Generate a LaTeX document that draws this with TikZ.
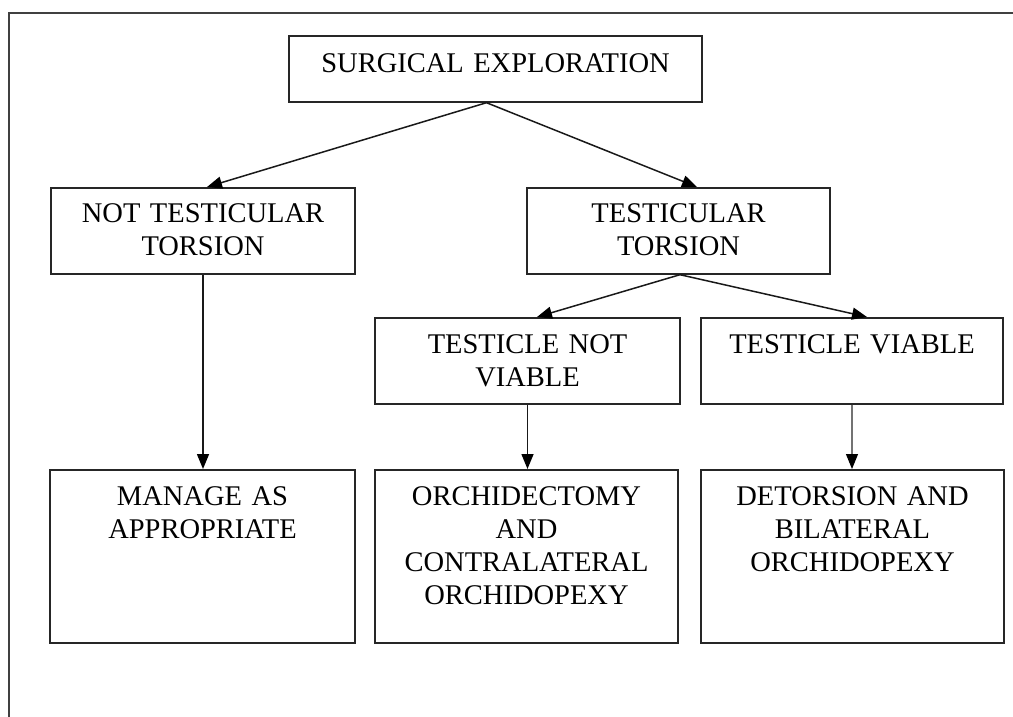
\documentclass[tikz,border=0pt]{standalone}
\usepackage{fontspec}
\setmainfont{Liberation Serif}
\usetikzlibrary{arrows.meta}
\begin{document}
\begin{tikzpicture}[x=1pt,y=-1pt,
  box/.style={draw=black!85, line width=1.7pt, anchor=north, inner xsep=0pt, inner ysep=0pt,
    align=center, font=\fontsize{28.5}{33}\selectfont},
  arr/.style={-{Triangle[length=15pt,width=12pt,color=black]}, line width=1.5pt, draw=black!90},
  lightarr/.style={-{Triangle[length=15pt,width=12pt,color=black]}, line width=1.1pt, draw=black!55},
  frame/.style={draw=black!75, line width=2pt}
]
\useasboundingbox (0,0) rectangle (1013,717);
\draw[frame] (9,717) -- (9,13) -- (1013,13);

\node[box, text width=413pt, text height=37pt, text depth=29pt] (top) at (495.5,35) {SURGICAL EXPLORATION};

\node[box, text width=304pt, text height=35pt, text depth=51pt] (ntt) at (203,187) {NOT TESTICULAR\\TORSION};
\node[box, text width=303pt, text height=35pt, text depth=51pt] (tt) at (678.5,187) {TESTICULAR\\TORSION};

\node[box, text width=305pt, text height=36pt, text depth=50pt] (tnv) at (527.5,317) {TESTICLE NOT\\VIABLE};
\node[box, text width=302pt, text height=36pt, text depth=50pt] (tv) at (852,317) {TESTICLE VIABLE};

\node[box, text width=305pt, text height=36pt, text depth=137pt] (maa) at (202.5,469) {MANAGE AS\\APPROPRIATE};
\node[box, text width=303pt, text height=36pt, text depth=137pt] (orch) at (526.5,469) {ORCHIDECTOMY\\AND\\CONTRALATERAL\\ORCHIDOPEXY};
\node[box, text width=303pt, text height=36pt, text depth=137pt] (dbo) at (852.5,469) {DETORSION AND\\BILATERAL\\ORCHIDOPEXY};

\draw[arr] ([xshift=-9pt]top.south) -- ([xshift=4pt]ntt.north);
\draw[arr] ([xshift=-9pt]top.south) -- ([xshift=18.5pt]tt.north);
\draw[arr] ([xshift=1.5pt]tt.south) -- ([xshift=9.5pt]tnv.north);
\draw[arr] ([xshift=1.5pt]tt.south) -- ([xshift=15pt]tv.north);
\draw[arr] (ntt.south) -- (ntt.south |- maa.north);
\draw[arr] (tnv.south) -- (tnv.south |- orch.north);
\draw[lightarr] (tv.south) -- (tv.south |- dbo.north);
\end{tikzpicture}
\end{document}
